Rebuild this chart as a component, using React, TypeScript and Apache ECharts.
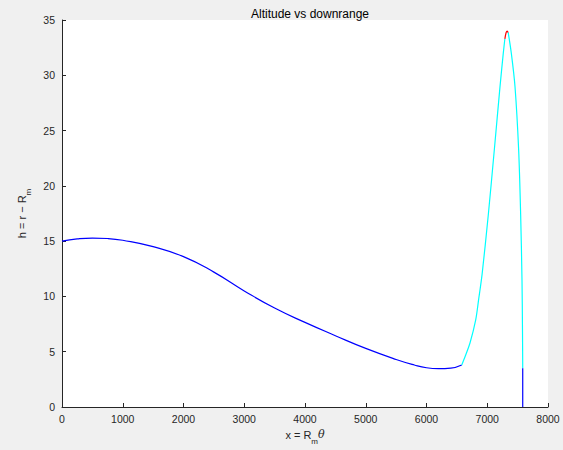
import { useEffect, useRef } from "react";
import * as echarts from "echarts";

// Downrange x (km) and altitude h (km)
const coastX = [0, 250, 500, 750, 1000, 1500, 2000, 2500, 3000, 3500, 4000, 4500, 5000, 5500, 5800, 6000, 6200, 6400, 6580];
const coastH = [15.0, 15.2, 15.28, 15.24, 15.08, 14.5, 13.6, 12.2, 10.5, 8.95, 7.65, 6.45, 5.3, 4.3, 3.8, 3.55, 3.47, 3.52, 3.8];

const climbX = [6580, 6634, 6716, 6810, 6860, 6915, 7017, 7116, 7210, 7264, 7290];
const climbH = [3.8, 4.55, 5.79, 7.87, 9.8, 12.0, 17.36, 23.24, 28.97, 32.0, 33.3];

const apexX = [7290, 7310, 7329, 7345];
const apexH = [33.3, 33.85, 34.0, 33.85];

const fallX = [7345, 7396, 7457, 7517, 7550, 7572, 7580, 7584];
const fallH = [33.85, 32.0, 28.97, 23.24, 17.36, 11.49, 7.0, 3.5];

const impactX = [7584, 7584];
const impactH = [3.5, 0];

const xTickMax = 8000;
const xTickStep = 1000;
const yTickMax = 35;
const yTickStep = 5;

const zip = (xs: number[], ys: number[]) => xs.map((x, i) => [x, ys[i]]);

const FONT = "Liberation Sans";
const INK = "#262626";

export default function App() {
  const ref = useRef<HTMLDivElement>(null);
  useEffect(() => {
    if (!ref.current) return;
    const chart = echarts.init(ref.current, undefined, { renderer: "svg" });
    const line = (data: number[][], color: string, smooth: number | boolean) => ({
      type: "line",
      data,
      showSymbol: false,
      smooth,
      lineStyle: { color, width: 1.2 },
      silent: true,
    });
    const subRich = {
      a: { fontFamily: FONT, fontSize: 11, color: INK, lineHeight: 13, verticalAlign: "top" },
      s: { fontFamily: FONT, fontSize: 8, color: INK, lineHeight: 16, verticalAlign: "bottom" },
      t: { fontFamily: "DejaVu Serif", fontStyle: "italic", fontSize: 11, color: INK, lineHeight: 13, verticalAlign: "top" },
    };
    chart.setOption({
      animation: false,
      backgroundColor: "#f0f0f0",
      title: {
        text: "Altitude vs downrange",
        left: 305,
        top: 3,
        textAlign: "center",
        textStyle: { fontFamily: FONT, fontSize: 12, fontWeight: "normal", color: "#000" },
      },
      grid: {
        left: 62,
        right: 15,
        top: 20,
        bottom: 43,
        show: true,
        backgroundColor: "#ffffff",
        borderWidth: 0,
      },
      xAxis: {
        type: "value",
        min: 0,
        max: xTickMax,
        interval: xTickStep,
        name: "{a|x = R}{s|m}{t|θ}",
        nameLocation: "middle",
        nameGap: 22,
        nameTextStyle: { fontFamily: FONT, color: INK, rich: subRich },
        axisLine: { show: true, onZero: false, lineStyle: { color: INK, width: 1 } },
        axisTick: { show: true, inside: true, length: 4, lineStyle: { color: INK } },
        axisLabel: { fontFamily: FONT, fontSize: 10.5, color: INK, margin: 6, formatter: (v: number) => String(v) },
        splitLine: { show: false },
      },
      yAxis: {
        type: "value",
        min: 0,
        max: yTickMax,
        interval: yTickStep,
        name: "{a|h = r − R}{s|m}",
        nameLocation: "middle",
        nameRotate: 90,
        nameGap: 30,
        nameTextStyle: { fontFamily: FONT, color: INK, rich: subRich },
        axisLine: { show: true, onZero: false, lineStyle: { color: INK, width: 1 } },
        axisTick: { show: true, inside: true, length: 4, lineStyle: { color: INK } },
        axisLabel: { fontFamily: FONT, fontSize: 10.5, color: INK, margin: 7, formatter: (v: number) => String(v) },
        splitLine: { show: false },
      },
      series: [
        line(zip(coastX, coastH), "#0000ff", 0.5),
        line(zip(climbX, climbH), "#00ffff", 0.3),
        line(zip(apexX, apexH), "#ff0000", 0.3),
        line(zip(fallX, fallH), "#00ffff", 0.3),
        line(zip(impactX, impactH), "#0000ff", false),
      ],
    });
    return () => chart.dispose();
  }, []);
  return (
    <div
      ref={ref}
      style={{ position: "fixed", left: 0, top: 0, width: 563, height: 450 }}
    />
  );
}
